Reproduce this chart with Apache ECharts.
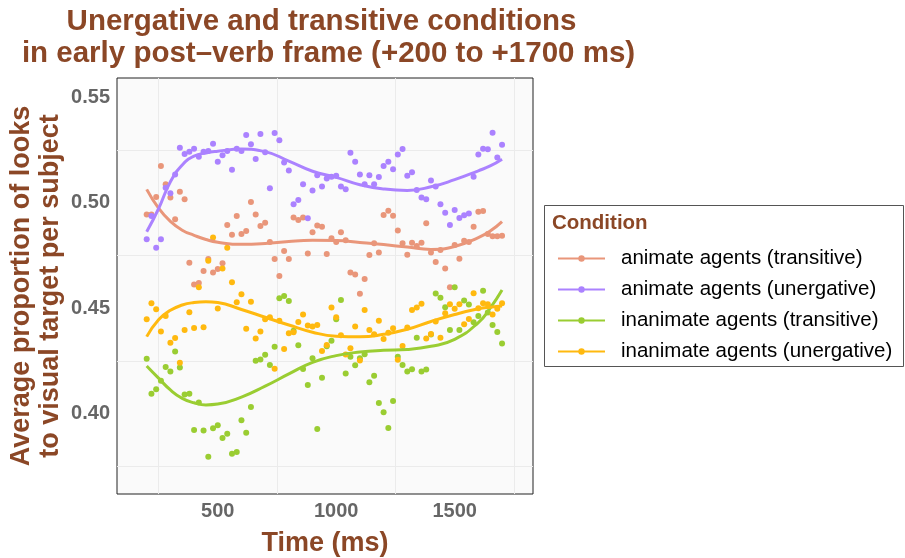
<!DOCTYPE html>
<html lang="en">
<head>
    <meta charset="UTF-8">
    <title>Unergative and transitive conditions</title>
    <script src="https://cdn.jsdelivr.net/npm/echarts@6/dist/echarts.min.js"></script>
    <style>
        html, body { margin: 0; padding: 0; background: #fff; }
        #main { width: 905px; height: 558px; }
    </style>
</head>
<body>
<div id="main"></div>

<script>
    // time points of the raw averages (ms)
    var times = [200, 220, 240, 260, 280, 300, 320, 340, 360, 380,
        400, 420, 440, 460, 480, 500, 520, 540, 560, 580,
        600, 620, 640, 660, 680, 700, 720, 740, 760, 780,
        800, 820, 840, 860, 880, 900, 920, 940, 960, 980,
        1000, 1020, 1040, 1060, 1080, 1100, 1120, 1140, 1160, 1180,
        1200, 1220, 1240, 1260, 1280, 1300, 1320, 1340, 1360, 1380,
        1400, 1420, 1440, 1460, 1480, 1500, 1520, 1540, 1560, 1580,
        1600, 1620, 1640, 1660, 1680, 1700];

    var conditions = ['animate agents (transitive)', 'animate agents (unergative)',
        'inanimate agents (transitive)', 'inanimate agents (unergative)'];
    var colors = ['#E9967A', '#AB82FF', '#9ACD32', '#FFB90F'];

    var animTrans = [0.4945, 0.4945, 0.5028, 0.5175, 0.5088, 0.5025, 0.4922, 0.5053, 0.5017, 0.4716,
        0.4613, 0.4620, 0.4677, 0.4734, 0.4670, 0.4686, 0.4713, 0.4895, 0.4849, 0.4938,
        0.4852, 0.4866, 0.5004, 0.4945, 0.4890, 0.4906, 0.4814, 0.4734, 0.4653, 0.4772,
        0.4734, 0.4930, 0.4919, 0.4930, 0.4759, 0.4861, 0.4892, 0.4886, 0.4757, 0.4832,
        0.4814, 0.4861, 0.4822, 0.4670, 0.4660, 0.4569, 0.4639, 0.4752, 0.4808, 0.4764,
        0.4942, 0.4963, 0.4939, 0.4869, 0.4808, 0.4754, 0.4811, 0.4795, 0.4811, 0.4903,
        0.4764, 0.4719, 0.4776, 0.4688, 0.4599, 0.4800, 0.4735, 0.4820, 0.4814, 0.4887,
        0.4958, 0.4961, 0.4852, 0.4842, 0.4842, 0.4844];

    var animUnerg = [0.4827, 0.4938, 0.4787, 0.4827, 0.5072, 0.5045, 0.5135, 0.5262, 0.5232, 0.5243,
        0.5257, 0.5219, 0.5243, 0.5246, 0.5281, 0.5195, 0.5226, 0.5246, 0.5157, 0.5257,
        0.5246, 0.5322, 0.5278, 0.5208, 0.5327, 0.5240, 0.5069, 0.5332, 0.5297, 0.5192,
        0.5153, 0.4993, 0.5014, 0.5088, 0.4927, 0.5058, 0.5131, 0.5077, 0.5115, 0.5124,
        0.5128, 0.5077, 0.5064, 0.5238, 0.5195, 0.5135, 0.5088, 0.5131, 0.5088, 0.5123,
        0.5175, 0.5195, 0.5159, 0.5230, 0.5256, 0.5128, 0.5145, 0.5061, 0.5025, 0.5017,
        0.5106, 0.5077, 0.4993, 0.4953, 0.4895, 0.4966, 0.4928, 0.4941, 0.4950, 0.5124,
        0.5230, 0.5257, 0.5254, 0.5333, 0.5215, 0.5276];

    var inanTrans = [0.4260, 0.4094, 0.4115, 0.4156, 0.4221, 0.4199, 0.4295, 0.4218, 0.4091, 0.4094,
        0.3922, 0.4053, 0.3919, 0.3795, 0.3930, 0.3944, 0.3884, 0.3904, 0.3809, 0.3817,
        0.3968, 0.3909, 0.4031, 0.4251, 0.4257, 0.4279, 0.4231, 0.4317, 0.4547, 0.4558,
        0.4534, 0.4393, 0.4324, 0.4212, 0.4135, 0.4262, 0.3927, 0.4170, 0.4320, 0.4346,
        0.4448, 0.4539, 0.4190, 0.4269, 0.4229, 0.4262, 0.4282, 0.4148, 0.4179, 0.4050,
        0.4006, 0.3931, 0.4059, 0.4270, 0.4231, 0.4199, 0.4210, 0.4360, 0.4199, 0.4209,
        0.4375, 0.4570, 0.4550, 0.4504, 0.4397, 0.4599, 0.4396, 0.4536, 0.4517, 0.4433,
        0.4463, 0.4583, 0.4479, 0.4420, 0.4387, 0.4333];

    var inanUnerg = [0.4447, 0.4523, 0.4495, 0.4390, 0.4463, 0.4336, 0.4358, 0.4241, 0.4397, 0.4481,
        0.4406, 0.4600, 0.4409, 0.4725, 0.4836, 0.4499, 0.4688, 0.4787, 0.4623, 0.4528,
        0.4566, 0.4403, 0.4531, 0.4356, 0.4390, 0.4447, 0.4457, 0.4213, 0.4441, 0.4306,
        0.4381, 0.4386, 0.4435, 0.4470, 0.4418, 0.4413, 0.4420, 0.4297, 0.4325, 0.4503,
        0.4457, 0.4372, 0.4280, 0.4310, 0.4413, 0.4252, 0.4492, 0.4397, 0.4376, 0.4441,
        0.4354, 0.4384, 0.4405, 0.4255, 0.4321, 0.4408, 0.4492, 0.4503, 0.4521, 0.4356,
        0.4378, 0.4437, 0.4360, 0.4476, 0.4519, 0.4497, 0.4519, 0.4424, 0.4449, 0.4571,
        0.4500, 0.4523, 0.4519, 0.4470, 0.4497, 0.4523];

    // smoothed curves
    var fitTimes = [200, 250, 300, 350, 400, 450, 500, 600, 700, 800, 900,
        1000, 1100, 1200, 1300, 1400, 1500, 1600, 1650, 1700];
    var fitAnimTrans = [0.5064, 0.4975, 0.4912, 0.4870, 0.4846, 0.4826, 0.4813, 0.4803, 0.4807, 0.4817, 0.4822,
        0.4821, 0.4812, 0.4802, 0.4790, 0.4779, 0.4793, 0.4835, 0.4866, 0.4911];
    var fitAnimUnerg = [0.4863, 0.4972, 0.5100, 0.5180, 0.5222, 0.5237, 0.5245, 0.5255, 0.5243, 0.5198, 0.5150,
        0.5121, 0.5086, 0.5066, 0.5059, 0.5076, 0.5110, 0.5152, 0.5175, 0.5207];
    var fitInanTrans = [0.4226, 0.4168, 0.4112, 0.4072, 0.4051, 0.4041, 0.4045, 0.4078, 0.4130, 0.4188, 0.4243,
        0.4275, 0.4292, 0.4300, 0.4304, 0.4319, 0.4352, 0.4432, 0.4500, 0.4586];
    var fitInanUnerg = [0.4365, 0.4445, 0.4490, 0.4515, 0.4527, 0.4531, 0.4527, 0.4494, 0.4457, 0.4420, 0.4386,
        0.4367, 0.4364, 0.4376, 0.4400, 0.4437, 0.4470, 0.4497, 0.4505, 0.4510];

    var xLabels = [500, 1000, 1500];
    var xGrid = [250, 750, 1250, 1750];
    var yLabels = [0.40, 0.45, 0.50, 0.55];
    var yGrid = [0.375, 0.425, 0.475, 0.525];

    var pointSets = [animTrans, animUnerg, inanTrans, inanUnerg];
    var fitSets = [fitAnimTrans, fitAnimUnerg, fitInanTrans, fitInanUnerg];

    function pairs(xs, ys) {
        return xs.map(function (x, i) { return [x, ys[i]]; });
    }

    var brown = '#8B4726';
    var font = '"Liberation Sans", Arial, Helvetica, sans-serif';
    var titleStyle = {fontFamily: font, fontSize: 29.5, fontWeight: 'bold', color: brown, lineHeight: 30};

    var series = [];
    for (var k = 0; k < conditions.length; k++) {
        series.push({
            name: conditions[k],
            type: 'line',
            smooth: true,
            showSymbol: false,
            symbol: 'circle',
            z: 3,
            color: colors[k],
            lineStyle: {width: 3, color: colors[k]},
            data: pairs(fitTimes, fitSets[k])
        });
    }
    for (var j = 0; j < conditions.length; j++) {
        series.push({
            name: conditions[j],
            type: 'scatter',
            symbolSize: 6,
            z: 2,
            itemStyle: {color: colors[j], opacity: 1},
            data: pairs(times, pointSets[j])
        });
    }

    var myChart = echarts.init(document.getElementById('main'), null, {renderer: 'canvas'});

    var option = {
        animation: false,
        textStyle: {fontFamily: font},
        title: [
            {
                text: 'Unergative and transitive conditions',
                left: 321.5,
                top: 7,
                padding: 0,
                textAlign: 'center',
                textStyle: titleStyle
            },
            {
                text: 'in early post\u2013verb frame (+200 to +1700 ms)',
                left: 328.5,
                top: 39,
                padding: 0,
                textAlign: 'center',
                textStyle: titleStyle
            }
        ],
        grid: {
            left: 117,
            top: 78,
            width: 416,
            height: 416,
            outerBoundsMode: 'none',
            show: true,
            backgroundColor: '#FAFAFA',
            borderColor: '#222',
            borderWidth: 1
        },
        legend: {
            data: conditions,
            orient: 'vertical',
            left: 557,
            top: 248,
            padding: 0,
            itemWidth: 47,
            itemHeight: 8,
            itemGap: 10,
            textStyle: {
                fontFamily: font,
                fontSize: 20.5,
                lineHeight: 20,
                color: '#000',
                padding: [0, 0, 0, 11]
            }
        },
        graphic: [
            {
                type: 'rect',
                z: -1,
                shape: {x: 544.5, y: 205.5, width: 359, height: 161},
                style: {fill: '#fff', stroke: '#555', lineWidth: 1}
            },
            {
                type: 'text',
                x: 552,
                y: 223,
                style: {
                    text: 'Condition',
                    font: 'bold 20.5px ' + font,
                    fill: brown,
                    textVerticalAlign: 'middle'
                }
            }
        ],
        xAxis: {
            type: 'value',
            min: 74.6,
            max: 1830.7,
            name: 'Time (ms)',
            nameLocation: 'middle',
            nameGap: 36,
            nameTextStyle: {fontFamily: font, fontSize: 27, fontWeight: 'bold', color: brown},
            axisLine: {show: false},
            axisTick: {show: false, customValues: xGrid},
            axisLabel: {
                customValues: xLabels,
                color: '#666',
                fontWeight: 'bold',
                fontSize: 20,
                margin: 7,
                formatter: function (v) { return String(v); }
            },
            splitLine: {show: true, lineStyle: {color: '#EBEBEB', width: 1}}
        },
        yAxis: {
            type: 'value',
            min: 0.36182,
            max: 0.55925,
            name: 'Average proportion of looks\nto visual target per subject',
            nameLocation: 'middle',
            nameGap: 52,
            nameTextStyle: {fontFamily: font, fontSize: 27, fontWeight: 'bold', color: brown, lineHeight: 29},
            axisLine: {show: false},
            axisTick: {show: false, customValues: yGrid},
            axisLabel: {
                customValues: yLabels,
                color: '#666',
                fontWeight: 'bold',
                fontSize: 20,
                margin: 7,
                formatter: function (v) { return v.toFixed(2); }
            },
            splitLine: {show: true, lineStyle: {color: '#EBEBEB', width: 1}}
        },
        series: series
    };

    myChart.setOption(option, true);
</script>
</body>
</html>
